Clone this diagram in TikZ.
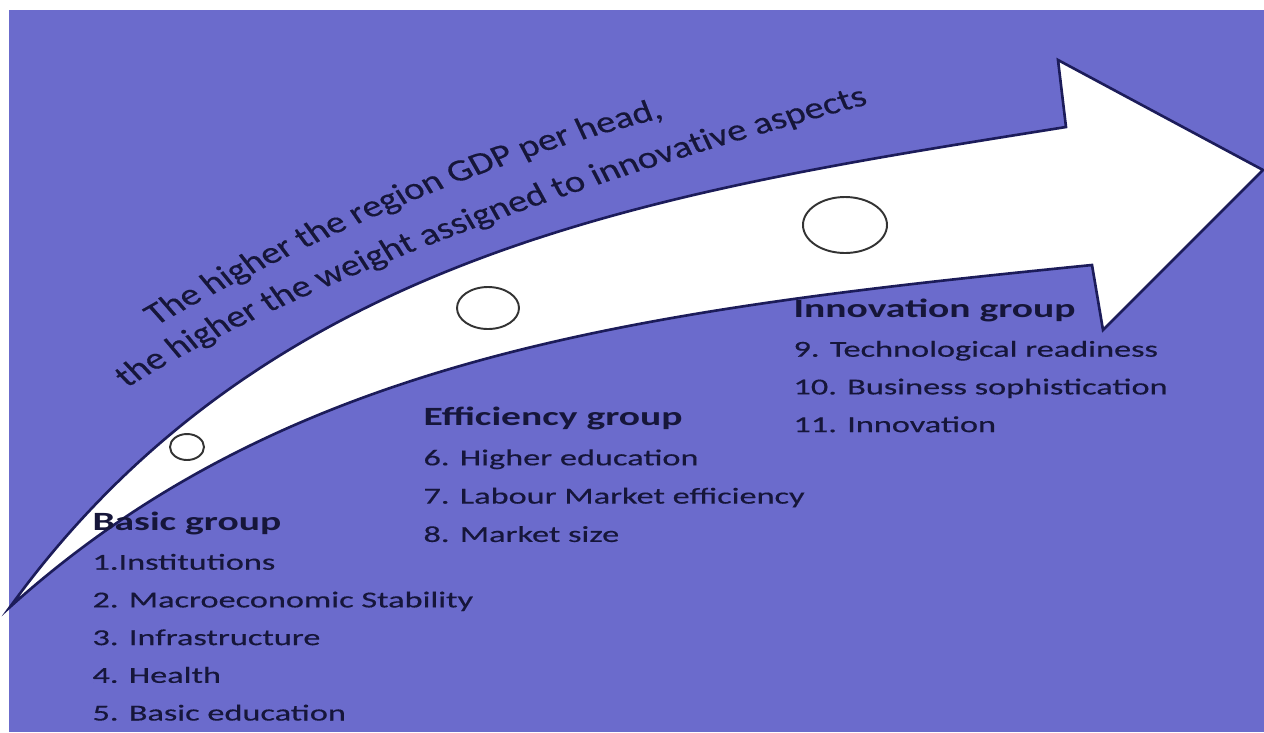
\documentclass[tikz,border=0pt]{standalone}
\usepackage{fontspec}
\setmainfont{Carlito}
\newfontfamily\heavyfont{Carlito}[FakeBold=0.35]
\usetikzlibrary{decorations.text}
\definecolor{slate}{RGB}{107,107,204}
\definecolor{ink}{RGB}{22,22,58}
\definecolor{rim}{RGB}{28,28,90}
\newcommand{\curvefont}{\heavyfont\fontsize{17.6}{21}\selectfont}

\begin{document}
\begin{tikzpicture}[
  x=0.2mm, y=-0.2mm,
  arrowline/.style={draw=rim, line width=1.5pt, fill=white, line join=miter},
  ring/.style={draw=black!80, line width=1.1pt},
  grp/.style={anchor=base west, inner sep=0pt, text=ink, font=\fontsize{15}{18}\selectfont\bfseries},
  item/.style={anchor=base west, inner sep=0pt, text=ink, font=\heavyfont\fontsize{13}{16}\selectfont},
  wide/.style={transform canvas={xscale=1.5}, x=0.133333mm},
  bent/.style={transform canvas={xscale=1.25}, x=0.16mm}
]
\useasboundingbox (0,0) rectangle (1264,732);
\fill[slate] (9,10) rectangle (1264,732);
% the big curved arrow
\draw[arrowline] (10,607) .. controls (270,248) and (666,191) .. (1066,127)
  -- (1058,60) -- (1263,170) -- (1103,330) -- (1092,265)
  .. controls (642,310) and (290,355) .. (10,607) -- cycle;
\draw[ring] (187,447) ellipse [x radius=17, y radius=13];
\draw[ring] (488,308) ellipse [x radius=31, y radius=21];
\draw[ring] (845,225) ellipse [x radius=42, y radius=28];
\begin{scope}[bent]
  % text over the arrow
  \path[decorate, decoration={text along path,
      text={|\color{ink}\curvefont|The higher the region GDP per head,}}]
    (156,326) .. controls (298,244) and (518,144) .. (718,106);
  \path[decorate, decoration={text along path,
      text={|\color{ink}\curvefont|the higher the weight assigned to innovative aspects}}]
    (127,388) .. controls (280,291) and (600,171) .. (920,91);
\end{scope}
\begin{scope}[wide]
  % the three groups
  \node[grp] (basic) at (92,530) {Basic group};
  \foreach \lbl [count=\i] in {1.Institutions, 2. Macroeconomic Stability,
      3. Infrastructure, 4. Health, 5. Basic education}
    \node[item] (basic\i) at (92,{532+37.7*\i}) {\lbl};
  \node[grp] (effic) at (423,425) {Efficiency group};
  \foreach \lbl [count=\i] in {6. Higher education, 7. Labour Market efficiency,
      8. Market size}
    \node[item] (effic\i) at (423,{427+38.3*\i}) {\lbl};
  \node[grp] (innov) at (793,317) {Innovation group};
  \foreach \lbl [count=\i] in {9. Technological readiness,
      10. Business sophistication, 11. Innovation}
    \node[item] (innov\i) at (793,{319+37.7*\i}) {\lbl};
\end{scope}
\end{tikzpicture}
\end{document}
